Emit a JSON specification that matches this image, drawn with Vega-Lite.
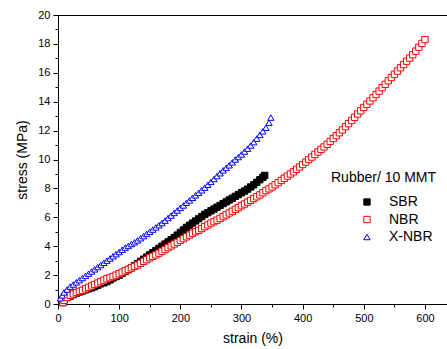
{
  "$schema": "https://vega.github.io/schema/vega-lite/v6.json",
  "autosize": {"type": "none"},
  "padding": {"left": 58, "top": 15, "right": 0, "bottom": 45},
  "width": 389,
  "height": 289,
  "background": "white",
  "config": {
    "view": {"stroke": "black", "strokeWidth": 1},
    "font": "Liberation Sans",
    "axis": {"grid": false, "domainColor": "black", "tickColor": "black", "labelColor": "black", "titleColor": "black", "labelFont": "Liberation Sans", "titleFont": "Liberation Sans", "labelFontSize": 11, "titleFontSize": 14, "titleFontWeight": "normal"}
  },
  "data": {"values": [
{"r":"SBR","x":8,"y":0.1},{"r":"SBR","x":10,"y":0.3},{"r":"SBR","x":15,"y":0.45},{"r":"SBR","x":20,"y":0.55},{"r":"SBR","x":25,"y":0.65},{"r":"SBR","x":30,"y":0.75},{"r":"SBR","x":35,"y":0.83},{"r":"SBR","x":40,"y":0.9},{"r":"SBR","x":45,"y":0.98},{"r":"SBR","x":50,"y":1.05},{"r":"SBR","x":55,"y":1.12},{"r":"SBR","x":60,"y":1.2},{"r":"SBR","x":65,"y":1.3},{"r":"SBR","x":70,"y":1.4},{"r":"SBR","x":75,"y":1.47},{"r":"SBR","x":80,"y":1.55},{"r":"SBR","x":85,"y":1.67},{"r":"SBR","x":90,"y":1.8},{"r":"SBR","x":95,"y":1.9},{"r":"SBR","x":100,"y":2.0},{"r":"SBR","x":105,"y":2.12},{"r":"SBR","x":110,"y":2.25},{"r":"SBR","x":115,"y":2.37},{"r":"SBR","x":120,"y":2.5},{"r":"SBR","x":125,"y":2.65},{"r":"SBR","x":130,"y":2.8},{"r":"SBR","x":135,"y":2.95},{"r":"SBR","x":140,"y":3.1},{"r":"SBR","x":145,"y":3.25},{"r":"SBR","x":150,"y":3.4},{"r":"SBR","x":155,"y":3.55},{"r":"SBR","x":160,"y":3.7},{"r":"SBR","x":165,"y":3.85},{"r":"SBR","x":170,"y":4.0},{"r":"SBR","x":175,"y":4.15},{"r":"SBR","x":180,"y":4.3},{"r":"SBR","x":185,"y":4.45},{"r":"SBR","x":190,"y":4.6},{"r":"SBR","x":195,"y":4.77},{"r":"SBR","x":200,"y":4.95},{"r":"SBR","x":205,"y":5.12},{"r":"SBR","x":210,"y":5.3},{"r":"SBR","x":215,"y":5.45},{"r":"SBR","x":220,"y":5.6},{"r":"SBR","x":225,"y":5.75},{"r":"SBR","x":230,"y":5.9},{"r":"SBR","x":235,"y":6.05},{"r":"SBR","x":240,"y":6.2},{"r":"SBR","x":245,"y":6.32},{"r":"SBR","x":250,"y":6.45},{"r":"SBR","x":255,"y":6.57},{"r":"SBR","x":260,"y":6.7},{"r":"SBR","x":265,"y":6.82},{"r":"SBR","x":270,"y":6.95},{"r":"SBR","x":275,"y":7.07},{"r":"SBR","x":280,"y":7.2},{"r":"SBR","x":285,"y":7.32},{"r":"SBR","x":290,"y":7.45},{"r":"SBR","x":295,"y":7.57},{"r":"SBR","x":300,"y":7.7},{"r":"SBR","x":305,"y":7.82},{"r":"SBR","x":310,"y":7.95},{"r":"SBR","x":315,"y":8.1},{"r":"SBR","x":320,"y":8.25},{"r":"SBR","x":325,"y":8.42},{"r":"SBR","x":330,"y":8.6},{"r":"SBR","x":335,"y":8.77},{"r":"SBR","x":338,"y":8.9},
{"r":"NBR","x":8,"y":0.1},{"r":"NBR","x":10,"y":0.25},{"r":"NBR","x":15,"y":0.45},{"r":"NBR","x":20,"y":0.6},{"r":"NBR","x":25,"y":0.7},{"r":"NBR","x":30,"y":0.8},{"r":"NBR","x":35,"y":0.88},{"r":"NBR","x":40,"y":0.95},{"r":"NBR","x":45,"y":1.05},{"r":"NBR","x":50,"y":1.15},{"r":"NBR","x":55,"y":1.25},{"r":"NBR","x":60,"y":1.35},{"r":"NBR","x":65,"y":1.45},{"r":"NBR","x":70,"y":1.55},{"r":"NBR","x":75,"y":1.65},{"r":"NBR","x":80,"y":1.75},{"r":"NBR","x":85,"y":1.82},{"r":"NBR","x":90,"y":1.9},{"r":"NBR","x":95,"y":2.0},{"r":"NBR","x":100,"y":2.1},{"r":"NBR","x":105,"y":2.2},{"r":"NBR","x":110,"y":2.3},{"r":"NBR","x":115,"y":2.4},{"r":"NBR","x":120,"y":2.5},{"r":"NBR","x":125,"y":2.6},{"r":"NBR","x":130,"y":2.7},{"r":"NBR","x":135,"y":2.82},{"r":"NBR","x":140,"y":2.95},{"r":"NBR","x":145,"y":3.07},{"r":"NBR","x":150,"y":3.2},{"r":"NBR","x":155,"y":3.3},{"r":"NBR","x":160,"y":3.4},{"r":"NBR","x":165,"y":3.52},{"r":"NBR","x":170,"y":3.65},{"r":"NBR","x":175,"y":3.77},{"r":"NBR","x":180,"y":3.9},{"r":"NBR","x":185,"y":4.02},{"r":"NBR","x":190,"y":4.15},{"r":"NBR","x":195,"y":4.27},{"r":"NBR","x":200,"y":4.4},{"r":"NBR","x":205,"y":4.52},{"r":"NBR","x":210,"y":4.65},{"r":"NBR","x":215,"y":4.77},{"r":"NBR","x":220,"y":4.9},{"r":"NBR","x":225,"y":5.0},{"r":"NBR","x":230,"y":5.1},{"r":"NBR","x":235,"y":5.22},{"r":"NBR","x":240,"y":5.35},{"r":"NBR","x":245,"y":5.47},{"r":"NBR","x":250,"y":5.6},{"r":"NBR","x":255,"y":5.7},{"r":"NBR","x":260,"y":5.8},{"r":"NBR","x":265,"y":5.92},{"r":"NBR","x":270,"y":6.05},{"r":"NBR","x":275,"y":6.17},{"r":"NBR","x":280,"y":6.3},{"r":"NBR","x":285,"y":6.42},{"r":"NBR","x":290,"y":6.55},{"r":"NBR","x":295,"y":6.67},{"r":"NBR","x":300,"y":6.8},{"r":"NBR","x":305,"y":6.92},{"r":"NBR","x":310,"y":7.05},{"r":"NBR","x":315,"y":7.17},{"r":"NBR","x":320,"y":7.3},{"r":"NBR","x":325,"y":7.42},{"r":"NBR","x":330,"y":7.55},{"r":"NBR","x":335,"y":7.7},{"r":"NBR","x":340,"y":7.85},{"r":"NBR","x":345,"y":7.97},{"r":"NBR","x":350,"y":8.1},{"r":"NBR","x":355,"y":8.25},{"r":"NBR","x":360,"y":8.4},{"r":"NBR","x":365,"y":8.55},{"r":"NBR","x":370,"y":8.7},{"r":"NBR","x":375,"y":8.85},{"r":"NBR","x":380,"y":9.0},{"r":"NBR","x":385,"y":9.15},{"r":"NBR","x":390,"y":9.32},{"r":"NBR","x":395,"y":9.48},{"r":"NBR","x":400,"y":9.65},{"r":"NBR","x":405,"y":9.82},{"r":"NBR","x":410,"y":10.0},{"r":"NBR","x":415,"y":10.17},{"r":"NBR","x":420,"y":10.35},{"r":"NBR","x":425,"y":10.52},{"r":"NBR","x":430,"y":10.7},{"r":"NBR","x":435,"y":10.87},{"r":"NBR","x":440,"y":11.05},{"r":"NBR","x":445,"y":11.25},{"r":"NBR","x":450,"y":11.45},{"r":"NBR","x":455,"y":11.65},{"r":"NBR","x":460,"y":11.85},{"r":"NBR","x":465,"y":12.05},{"r":"NBR","x":470,"y":12.27},{"r":"NBR","x":475,"y":12.48},{"r":"NBR","x":480,"y":12.7},{"r":"NBR","x":485,"y":12.92},{"r":"NBR","x":490,"y":13.15},{"r":"NBR","x":495,"y":13.37},{"r":"NBR","x":500,"y":13.6},{"r":"NBR","x":505,"y":13.82},{"r":"NBR","x":510,"y":14.05},{"r":"NBR","x":515,"y":14.27},{"r":"NBR","x":520,"y":14.5},{"r":"NBR","x":525,"y":14.73},{"r":"NBR","x":530,"y":14.97},{"r":"NBR","x":535,"y":15.2},{"r":"NBR","x":540,"y":15.45},{"r":"NBR","x":545,"y":15.67},{"r":"NBR","x":550,"y":15.9},{"r":"NBR","x":555,"y":16.12},{"r":"NBR","x":560,"y":16.35},{"r":"NBR","x":565,"y":16.57},{"r":"NBR","x":570,"y":16.8},{"r":"NBR","x":575,"y":17.02},{"r":"NBR","x":580,"y":17.25},{"r":"NBR","x":585,"y":17.5},{"r":"NBR","x":590,"y":17.77},{"r":"NBR","x":595,"y":18.03},{"r":"NBR","x":600,"y":18.3},
{"r":"X-NBR","x":4,"y":0.4},{"r":"X-NBR","x":7,"y":0.6},{"r":"X-NBR","x":10,"y":0.8},{"r":"X-NBR","x":15,"y":1.0},{"r":"X-NBR","x":20,"y":1.2},{"r":"X-NBR","x":25,"y":1.35},{"r":"X-NBR","x":30,"y":1.5},{"r":"X-NBR","x":35,"y":1.65},{"r":"X-NBR","x":40,"y":1.8},{"r":"X-NBR","x":45,"y":1.95},{"r":"X-NBR","x":50,"y":2.1},{"r":"X-NBR","x":55,"y":2.25},{"r":"X-NBR","x":60,"y":2.4},{"r":"X-NBR","x":65,"y":2.55},{"r":"X-NBR","x":70,"y":2.7},{"r":"X-NBR","x":75,"y":2.85},{"r":"X-NBR","x":80,"y":3.0},{"r":"X-NBR","x":85,"y":3.15},{"r":"X-NBR","x":90,"y":3.3},{"r":"X-NBR","x":95,"y":3.45},{"r":"X-NBR","x":100,"y":3.6},{"r":"X-NBR","x":105,"y":3.75},{"r":"X-NBR","x":110,"y":3.9},{"r":"X-NBR","x":115,"y":4.02},{"r":"X-NBR","x":120,"y":4.15},{"r":"X-NBR","x":125,"y":4.27},{"r":"X-NBR","x":130,"y":4.4},{"r":"X-NBR","x":135,"y":4.55},{"r":"X-NBR","x":140,"y":4.7},{"r":"X-NBR","x":145,"y":4.85},{"r":"X-NBR","x":150,"y":5.0},{"r":"X-NBR","x":155,"y":5.15},{"r":"X-NBR","x":160,"y":5.3},{"r":"X-NBR","x":165,"y":5.45},{"r":"X-NBR","x":170,"y":5.6},{"r":"X-NBR","x":175,"y":5.77},{"r":"X-NBR","x":180,"y":5.95},{"r":"X-NBR","x":185,"y":6.12},{"r":"X-NBR","x":190,"y":6.3},{"r":"X-NBR","x":195,"y":6.47},{"r":"X-NBR","x":200,"y":6.65},{"r":"X-NBR","x":205,"y":6.82},{"r":"X-NBR","x":210,"y":7.0},{"r":"X-NBR","x":215,"y":7.17},{"r":"X-NBR","x":220,"y":7.35},{"r":"X-NBR","x":225,"y":7.52},{"r":"X-NBR","x":230,"y":7.7},{"r":"X-NBR","x":235,"y":7.87},{"r":"X-NBR","x":240,"y":8.05},{"r":"X-NBR","x":245,"y":8.25},{"r":"X-NBR","x":250,"y":8.45},{"r":"X-NBR","x":255,"y":8.65},{"r":"X-NBR","x":260,"y":8.85},{"r":"X-NBR","x":265,"y":9.05},{"r":"X-NBR","x":270,"y":9.25},{"r":"X-NBR","x":275,"y":9.42},{"r":"X-NBR","x":280,"y":9.6},{"r":"X-NBR","x":285,"y":9.8},{"r":"X-NBR","x":290,"y":10.0},{"r":"X-NBR","x":295,"y":10.17},{"r":"X-NBR","x":300,"y":10.35},{"r":"X-NBR","x":305,"y":10.55},{"r":"X-NBR","x":310,"y":10.75},{"r":"X-NBR","x":315,"y":10.97},{"r":"X-NBR","x":320,"y":11.2},{"r":"X-NBR","x":325,"y":11.45},{"r":"X-NBR","x":330,"y":11.7},{"r":"X-NBR","x":335,"y":11.95},{"r":"X-NBR","x":340,"y":12.2},{"r":"X-NBR","x":345,"y":12.55},{"r":"X-NBR","x":348,"y":12.9}
  ]},
  "mark": {"type": "point", "filled": true, "opacity": 1, "strokeWidth": 1},
  "encoding": {
    "x": {
      "field": "x", "type": "quantitative",
      "scale": {"domain": [0, 636], "nice": false, "zero": false},
      "axis": {
        "title": "strain (%)",
        "values": [0,50,100,150,200,250,300,350,400,450,500,550,600],
        "labelExpr": "datum.value % 100 === 0 ? datum.label : ''",
        "tickSize": {"condition": {"test": "datum.value % 100 !== 0", "value": 3}, "value": 5},
        "labelPadding": 3,
        "titlePadding": 8,
        "labelFlush": false
      }
    },
    "y": {
      "field": "y", "type": "quantitative",
      "scale": {"domain": [0, 20], "nice": false, "zero": false},
      "axis": {
        "title": "stress (MPa)",
        "values": [0,1,2,3,4,5,6,7,8,9,10,11,12,13,14,15,16,17,18,19,20],
        "labelExpr": "datum.value % 2 === 0 ? datum.label : ''",
        "tickSize": {"condition": {"test": "datum.value % 2 !== 0", "value": 3}, "value": 5},
        "labelPadding": 3,
        "titlePadding": 8,
        "labelFlush": false
      }
    },
    "shape": {
      "field": "r", "type": "nominal", "title": "Rubber/ 10 MMT",
      "scale": {"domain": ["SBR", "NBR", "X-NBR"], "range": ["square", "square", "triangle-up"]},
      "legend": {
        "orient": "none", "legendX": 273, "legendY": 156,
        "titleFont": "Liberation Sans", "titleFontSize": 14, "titleFontWeight": "normal", "titleColor": "black",
        "labelFont": "Liberation Sans", "labelFontSize": 14, "labelColor": "black",
        "symbolOffset": 29, "labelOffset": 15, "rowPadding": 3.5, "titlePadding": 10,
        "symbolStrokeWidth": 1,
        "encode": {"labels": {"update": {"dx": {"value": -17}}}}
      }
    },
    "size": {
      "field": "r", "type": "nominal", "title": "Rubber/ 10 MMT",
      "scale": {"domain": ["SBR", "NBR", "X-NBR"], "range": [40, 40, 55]}
    },
    "fill": {
      "field": "r", "type": "nominal", "title": "Rubber/ 10 MMT",
      "scale": {"domain": ["SBR", "NBR", "X-NBR"], "range": ["black", "white", "white"]}
    },
    "stroke": {
      "field": "r", "type": "nominal", "title": "Rubber/ 10 MMT",
      "scale": {"domain": ["SBR", "NBR", "X-NBR"], "range": ["black", "#ff0000", "#0000ff"]}
    }
  }
}
